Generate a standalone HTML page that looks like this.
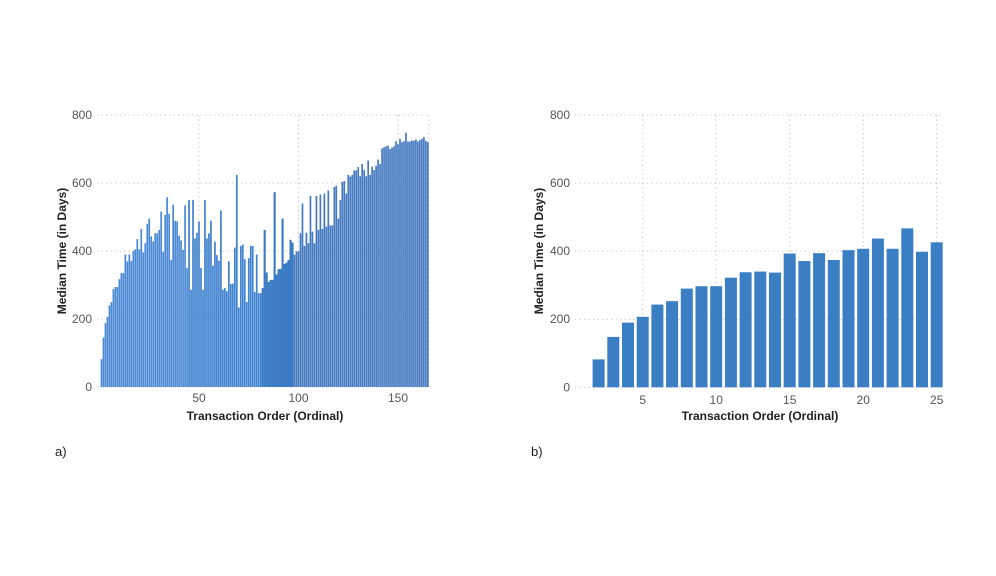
<!DOCTYPE html>
<html><head><meta charset="utf-8"><style>
html,body{margin:0;padding:0;background:#fff;}
svg{display:block;font-family:"Liberation Sans","DejaVu Sans",sans-serif;}
.tick{font-size:12px;fill:#555;}
.title{font-size:12px;font-weight:bold;fill:#222;}
</style></head><body>
<svg id="svg" width="996" height="576">
<g id="ga"></g>
<g id="gb"></g>
<text x="55" y="456" font-size="13" fill="#222">a)</text>
<text x="531" y="456" font-size="13" fill="#222">b)</text>
</svg>
<script>
const aValues=[82,145,188,206,240,250,288,294,294,317,335,335,390,369,390,371,400,405,435,405,465,396,423,480,495,443,428,452,452,462,516,398,506,558,509,374,536,489,487,445,431,403,534,350,550,286,550,437,454,487,
350,286,550,437,452,489,357,427,388,371,519,286,291,282,370,303,304,410,624,234,415,419,376,250,379,415,415,279,390,276,276,291,462,337,309,315,315,573,331,347,347,495,362,366,374,433,425,389,399,399,452,540,415,454,423,562,
457,423,562,462,566,465,569,472,578,475,475,588,592,495,550,603,606,569,624,619,624,637,637,647,620,656,638,620,666,624,648,638,651,669,656,702,705,708,710,700,704,708,723,714,730,720,723,748,722,722,725,724,728,722,726,730,735,724,720];
const aTicks=[50,100,150];
const bCats=[2,3,4,5,6,7,8,9,10,11,12,13,14,15,16,17,18,19,20,21,22,23,24,25];
const bValues=[82,148,190,207,243,253,290,297,297,322,338,340,337,393,371,394,374,403,407,437,407,467,398,426];
const bTicks=[5,10,15,20,25];
const yTicks=[0,200,400,600,800];
const NS="http://www.w3.org/2000/svg";
function mk(p,tag,attrs){const e=document.createElementNS(NS,tag);for(const k in attrs)e.setAttribute(k,attrs[k]);p.appendChild(e);return e;}

// chart a
(function(){
const g=document.getElementById('ga');
const x0=99.5,ux=1.99,y0=387,uy=272/800;
const xs=v=>x0+v*ux, ys=v=>y0-v*uy;
const right=xs(aValues.length+0.5);
yTicks.forEach(t=>{
 const l=mk(g,'line',{x1:97,x2:right,y1:ys(t),y2:ys(t),stroke:'#ccc','stroke-dasharray':'1.5,3'});
 
 
 const tx=mk(g,'text',{x:92,y:ys(t)+4,'text-anchor':'end',class:'tick'});tx.textContent=t;
 
 
});
aTicks.concat([aValues.length+0.5]).forEach((t,i)=>{
 const l=mk(g,'line',{x1:xs(t),x2:xs(t),y1:ys(800),y2:y0,stroke:'#ccc','stroke-dasharray':'1.5,3'});
 
 
});
aTicks.forEach(t=>{
 const tx=mk(g,'text',{x:xs(t),y:402,'text-anchor':'middle',class:'tick'});tx.textContent=t;
 
 
});
aValues.forEach((v,i)=>{
 const n=i+1;
 let c='#4a89d4'; if(n>44)c='#3f82cf'; if(n>81)c='#3a7bc4'; if(n>97)c='#467ac0';
 const w=(n>81&&n<=97)?2.1:1.7;
 const r=mk(g,'rect',{x:xs(n)-w/2,y:ys(v),width:w,height:y0-ys(v),fill:c});
 
 
});
const xt=mk(g,'text',{x:265,y:420,'text-anchor':'middle',class:'title'});xt.textContent='Transaction Order (Ordinal)';


const yt=mk(g,'text',{x:0,y:0,'text-anchor':'middle',class:'title',transform:'translate(66,251) rotate(-90)'});yt.textContent='Median Time (in Days)';


})();

// chart b
(function(){
const g=document.getElementById('gb');
const ux=14.7, x0=642.7-5*ux, y0=387.3, uy=272.3/800;
const xs=v=>x0+v*ux, ys=v=>y0-v*uy;
yTicks.forEach(t=>{
 const l=mk(g,'line',{x1:575,x2:943,y1:ys(t),y2:ys(t),stroke:'#ccc','stroke-dasharray':'1.5,3'});
 
 
 const tx=mk(g,'text',{x:570,y:ys(t)+4,'text-anchor':'end',class:'tick'});tx.textContent=t;
 
 
});
bTicks.forEach(t=>{
 const l=mk(g,'line',{x1:xs(t),x2:xs(t),y1:ys(800),y2:y0,stroke:'#ccc','stroke-dasharray':'1.5,3'});
 
 
});
bCats.forEach((c,i)=>{
 const v=bValues[i];
 const r=mk(g,'rect',{x:xs(c)-6,y:ys(v),width:12,height:y0-ys(v),fill:'#3a7fc4'});
 
 
});
bTicks.forEach(t=>{
 const tx=mk(g,'text',{x:xs(t),y:404,'text-anchor':'middle',class:'tick'});tx.textContent=t;
 
 
});
const xt=mk(g,'text',{x:760,y:420,'text-anchor':'middle',class:'title'});xt.textContent='Transaction Order (Ordinal)';


const yt=mk(g,'text',{x:0,y:0,'text-anchor':'middle',class:'title',transform:'translate(543,251) rotate(-90)'});yt.textContent='Median Time (in Days)';


})();
</script>
</body></html>
